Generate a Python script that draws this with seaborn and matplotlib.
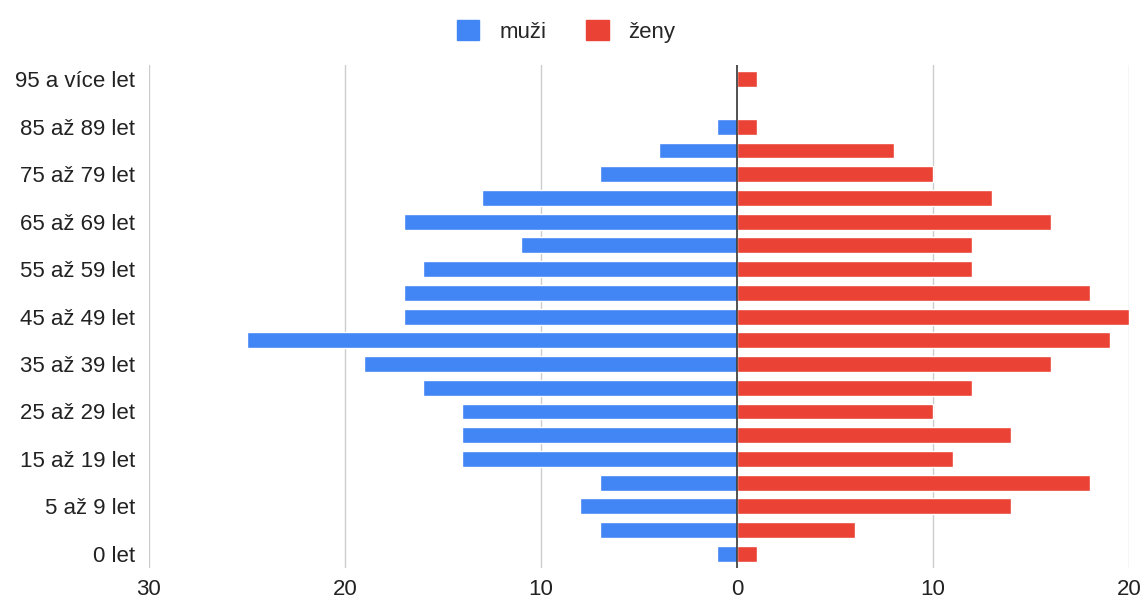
import pandas as pd
import matplotlib.pyplot as plt
import seaborn as sns
from matplotlib.patches import Patch

# age groups, bottom to top
ages = ["0 let", "1 až 4 let", "5 až 9 let", "10 až 14 let", "15 až 19 let",
        "20 až 24 let", "25 až 29 let", "30 až 34 let", "35 až 39 let",
        "40 až 44 let", "45 až 49 let", "50 až 54 let", "55 až 59 let",
        "60 až 64 let", "65 až 69 let", "70 až 74 let", "75 až 79 let",
        "80 až 84 let", "85 až 89 let", "90 až 94 let", "95 a více let"]
muzi = [1, 7, 8, 7, 14, 14, 14, 16, 19, 25, 17, 17, 16, 11, 17, 13, 7, 4, 1, 0, 0]
zeny = [1, 6, 14, 18, 11, 14, 10, 12, 16, 19, 20, 18, 12, 12, 16, 13, 10, 8, 1, 0, 1]

df = pd.DataFrame({"vek": ages, "muzi": [-m for m in muzi], "zeny": zeny})
order = ages[::-1]  # top row first

sns.set_style("white")
plt.rcParams['font.family'] = ['Liberation Sans', 'DejaVu Sans']

blue = "#4285F4"
red = "#EA4335"
txt = "#222222"

fig = plt.figure(figsize=(11.44, 6.03), dpi=100)
ax = fig.add_axes([0.130, 0.058, 0.857, 0.834])

sns.barplot(data=df, x="muzi", y="vek", order=order, orient="h",
            color=blue, width=0.67, saturation=1, ax=ax)
sns.barplot(data=df, x="zeny", y="vek", order=order, orient="h",
            color=red, width=0.67, saturation=1, ax=ax)

ax.set_xlim(-30, 20)
ax.set_ylim(20.6, -0.6)
xt = [-30, -20, -10, 0, 10, 20]
ax.set_xticks(xt)
ax.set_xticklabels([str(abs(v)) for v in xt], fontsize=16, color=txt)
ax.set_yticks(range(len(order)))
ax.set_yticklabels([lab if i % 2 == 0 else "" for i, lab in enumerate(order)],
                   fontsize=16, color=txt)
ax.tick_params(axis="x", length=0, pad=8)
ax.tick_params(axis="y", length=0, pad=10)
ax.set_xlabel("")
ax.set_ylabel("")

for v in [-30, -20, -10, 10, 20]:
    ax.axvline(v, color="#cccccc", lw=1, zorder=0)
ax.axvline(0, color="#333333", lw=1.2, zorder=3)
for s in ax.spines.values():
    s.set_visible(False)

handles = [Patch(color=blue, label="muži"), Patch(color=red, label="ženy")]
fig.legend(handles=handles, loc="upper center", bbox_to_anchor=(0.495, 1.0),
           ncol=2, frameon=False, fontsize=16, handlelength=1.0, handleheight=1.0,
           columnspacing=1.8, handletextpad=0.9)

fig.savefig("out.png", dpi=100)
